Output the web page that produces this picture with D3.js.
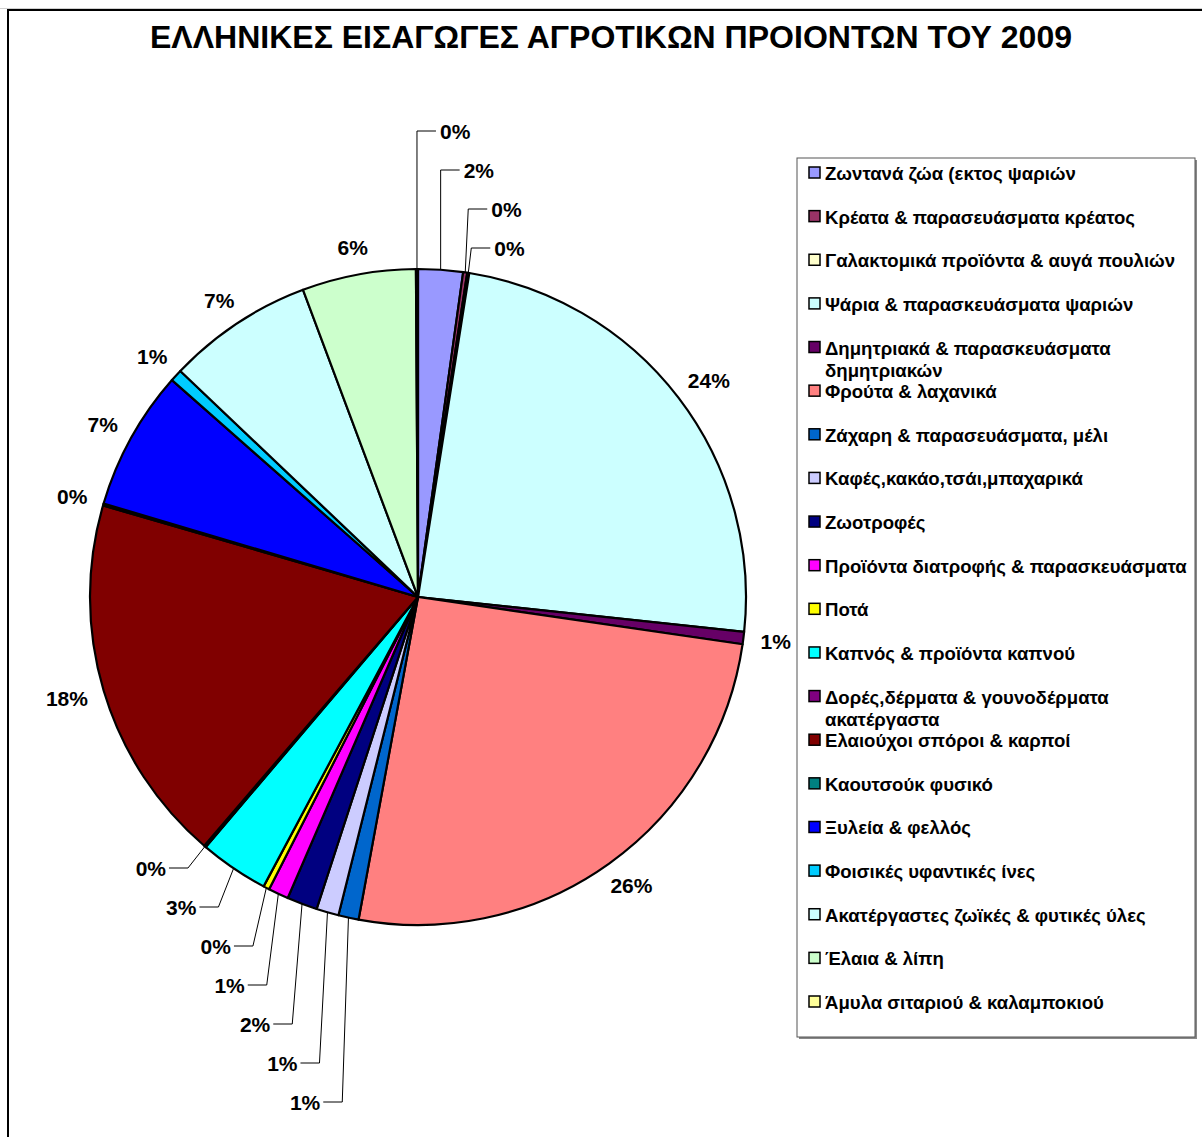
<!DOCTYPE html>
<html>
<head>
<meta charset="utf-8">
<script src="https://cdn.jsdelivr.net/npm/d3@7"></script>
<style>
  body { margin: 0; background: #fff; }
  text { font-family: "Liberation Sans", Arial, sans-serif; font-weight: bold; }
</style>
</head>
<body>
<div id="chart"></div>
<script>
// categories in drawing order (clockwise from 12 o'clock)
const categories = [
  "Ζωντανά ζώα (εκτος ψαριών",
  "Κρέατα & παρασευάσματα κρέατος",
  "Γαλακτομικά προϊόντα & αυγά πουλιών",
  "Ψάρια & παρασκευάσματα ψαριών",
  "Δημητριακά & παρασκευάσματα|δημητριακών",
  "Φρούτα & λαχανικά",
  "Ζάχαρη & παρασευάσματα, μέλι",
  "Καφές,κακάο,τσάι,μπαχαρικά",
  "Ζωοτροφές",
  "Προϊόντα διατροφής & παρασκευάσματα",
  "Ποτά",
  "Καπνός & προϊόντα καπνού",
  "Δορές,δέρματα & γουνοδέρματα|ακατέργαστα",
  "Ελαιούχοι σπόροι & καρποί",
  "Καουτσούκ φυσικό",
  "Ξυλεία & φελλός",
  "Φοισικές υφαντικές ίνες",
  "Ακατέργαστες ζωϊκές & φυτικές ύλες",
  "Έλαια & λίπη",
  "Άμυλα σιταριού & καλαμποκιού"
];

// share of imports, percent
const shares = [2.2, 0.2, 0.1, 24.2, 0.6, 25.6, 1.0, 1.1, 1.5, 1.0, 0.3, 3.4, 0.1, 18.2, 0.1, 6.9, 0.6, 7.2, 5.6, 0.1];

const colors = [
  "#9999FF", "#993366", "#FFFFCC", "#CCFFFF", "#660066", "#FF8080", "#0066CC",
  "#CCCCFF", "#000080", "#FF00FF", "#FFFF00", "#00FFFF", "#800080", "#800000",
  "#008080", "#0000FF", "#00CCFF", "#CCFFFF", "#CCFFCC", "#FFFF99"
];

// slices whose labels are pulled out with leader lines
const topLeader = [19, 0, 1, 2];
const bottomLeader = [12, 11, 10, 9, 8, 7, 6];

const W = 1202, H = 1137;
const cx = 418, cy = 597, r = 328;

const svg = d3.select("#chart").append("svg")
  .attr("width", W).attr("height", H);

// chart frame
svg.append("line").attr("x1", 0).attr("x2", W).attr("y1", 8.5).attr("y2", 8.5)
  .attr("stroke", "#d0d0d0").attr("stroke-width", 1);
svg.append("path")
  .attr("d", `M8,${H} V10 H${W}`)
  .attr("fill", "none").attr("stroke", "#000").attr("stroke-width", 2);

svg.append("text")
  .attr("x", 611).attr("y", 48)
  .attr("text-anchor", "middle")
  .attr("textLength", 922).attr("lengthAdjust", "spacingAndGlyphs")
  .style("font-size", "31px")
  .text("ΕΛΛΗΝΙΚΕΣ ΕΙΣΑΓΩΓΕΣ ΑΓΡΟΤΙΚΩΝ ΠΡΟΙΟΝΤΩΝ ΤΟΥ 2009");

const pie = d3.pie().sort(null).value(d => d);
const arcs = pie(shares);
const arc = d3.arc().innerRadius(0).outerRadius(r);

const g = svg.append("g").attr("transform", `translate(${cx},${cy})`);

g.selectAll("path.slice")
  .data(arcs)
  .enter()
  .append("path")
  .attr("class", "slice")
  .attr("d", arc)
  .attr("fill", (d, i) => colors[i])
  .attr("stroke", "#000")
  .attr("stroke-width", 2.2)
  .attr("stroke-linejoin", "round");

const pct = d => Math.round(d.value) + "%";
const mid = d => (d.startAngle + d.endAngle) / 2;
const edge = (d, rr) => [Math.sin(mid(d)) * rr, -Math.cos(mid(d)) * rr];

const labelSize = 21;
const labels = g.append("g").style("font-size", labelSize + "px");

// plain labels just outside the rim
arcs.forEach((d, i) => {
  if (topLeader.includes(i) || bottomLeader.includes(i)) return;
  const a = mid(d);
  const txt = pct(d);
  const w = txt.length * 11.5 + 8;
  const [px, py] = edge(d, r + 17);
  const x = px + Math.sin(a) * w / 2;
  const y = py - Math.cos(a) * labelSize / 2;
  labels.append("text")
    .attr("x", x).attr("y", y)
    .attr("text-anchor", "middle")
    .attr("dominant-baseline", "central")
    .text(txt);
});

const leaders = g.append("g")
  .attr("fill", "none").attr("stroke", "#000").attr("stroke-width", 1);

// leader labels above the pie, stacked downwards from the top row
const rowStep = 39;
topLeader.forEach((idx, k) => {
  const d = arcs[idx];
  const [ex, ey] = edge(d, r);
  const rowY = (131 - cy) + k * rowStep;
  const bx = ex + (k > 1 ? 3 : 0);
  const hx = bx + 19;
  leaders.append("path").attr("d", `M${ex},${ey} L${bx},${rowY} H${hx}`);
  labels.append("text")
    .attr("x", hx + 4).attr("y", rowY)
    .attr("dominant-baseline", "central")
    .text(pct(d));
});

// leader labels below-left, stacked downwards
bottomLeader.forEach((idx, k) => {
  const d = arcs[idx];
  const [ex, ey] = edge(d, r);
  const rowY = (868 - cy) + k * rowStep;
  const bx = ex - (17 - k * 1.8);
  const hx = bx - 19;
  leaders.append("path").attr("d", `M${ex},${ey} L${bx},${rowY} H${hx}`);
  labels.append("text")
    .attr("x", hx - 3).attr("y", rowY)
    .attr("text-anchor", "end")
    .attr("dominant-baseline", "central")
    .text(pct(d));
});

// legend
const lx = 797, ly = 158, lw = 398, lh = 879;
svg.append("rect")
  .attr("x", lx + 2).attr("y", ly + 2).attr("width", lw).attr("height", lh)
  .attr("fill", "#888");
svg.append("rect")
  .attr("x", lx).attr("y", ly).attr("width", lw).attr("height", lh)
  .attr("fill", "#fff").attr("stroke", "#555").attr("stroke-width", 1);

const legendY = d3.scaleLinear().domain([0, categories.length - 1]).range([173, 1002]);

const item = svg.append("g").selectAll("g")
  .data(categories)
  .enter()
  .append("g")
  .attr("transform", (d, i) => `translate(${lx},${legendY(i)})`);

item.append("rect")
  .attr("x", 12).attr("y", -6).attr("width", 11).attr("height", 11)
  .attr("fill", (d, i) => colors[i])
  .attr("stroke", "#000").attr("stroke-width", 1.5);

item.append("text")
  .attr("x", 28).attr("y", 0)
  .attr("dominant-baseline", "central")
  .style("font-size", "18.6px")
  .selectAll("tspan")
  .data(d => d.split("|"))
  .enter()
  .append("tspan")
  .attr("x", 28)
  .attr("dy", (d, j) => j === 0 ? 0 : 22)
  .text(d => d);
</script>
</body>
</html>
